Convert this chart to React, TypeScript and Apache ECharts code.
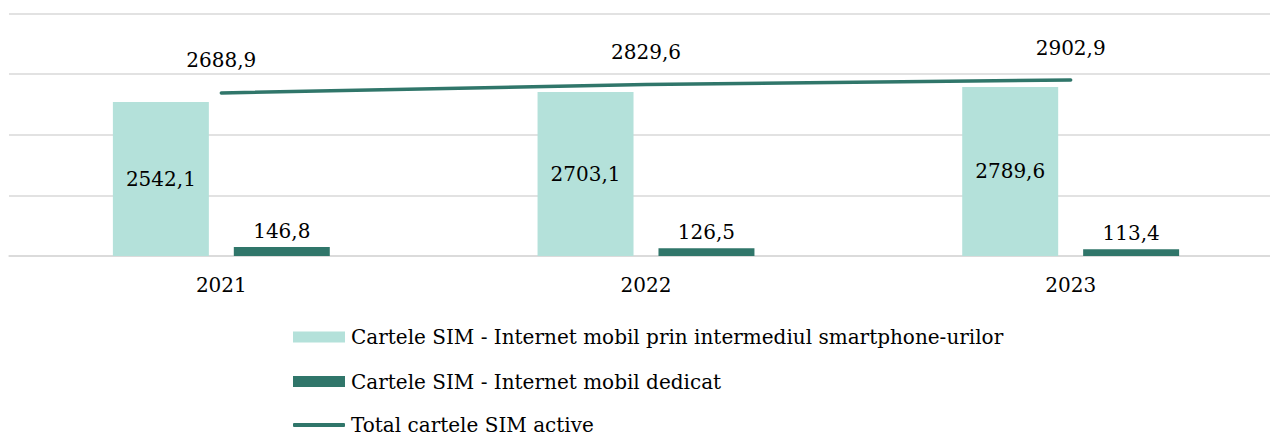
import React, { useEffect, useRef } from "react";
import * as echarts from "echarts";

const categories = ["2021", "2022", "2023"];
const smartphoneSim = [2542.1, 2703.1, 2789.6];
const dedicatedSim = [146.8, 126.5, 113.4];
const totalSim = [2688.9, 2829.6, 2902.9];
const seriesNames = [
  "Cartele SIM - Internet mobil prin intermediul smartphone-urilor",
  "Cartele SIM - Internet mobil dedicat",
  "Total cartele SIM active",
];

const FONT = "DejaVu Serif";
const LIGHT = "#b4e1da";
const DARK = "#30766a";
const fmt = (v: number) => v.toFixed(1).replace(".", ",");

const legendBase = {
  orient: "horizontal",
  left: 293,
  padding: 0,
  itemWidth: 52,
  itemGap: 0,
  textStyle: { fontFamily: FONT, fontSize: 20, color: "#000", padding: [0, 0, 0, 1] },
};

export default function App() {
  const ref = useRef<HTMLDivElement>(null);
  useEffect(() => {
    if (!ref.current) return;
    const chart = echarts.init(ref.current, null, { renderer: "svg" });
    chart.setOption({
      animation: false,
      textStyle: { fontFamily: FONT, color: "#000" },
      grid: { left: 9, right: 7, top: 13.5, bottom: 180, containLabel: false },
      legend: [
        { ...legendBase, top: 327, itemHeight: 11, icon: "rect", data: [seriesNames[0]] },
        { ...legendBase, top: 371.5, itemHeight: 11, icon: "rect", data: [seriesNames[1]] },
        { ...legendBase, top: 415, itemHeight: 4, icon: "roundRect", data: [seriesNames[2]] },
      ],
      xAxis: {
        type: "category",
        data: categories,
        axisLine: { lineStyle: { color: "#d9d9d9", width: 1.5 } },
        axisTick: { show: false },
        axisLabel: { fontFamily: FONT, fontSize: 20, color: "#000", margin: 19 },
      },
      yAxis: {
        type: "value",
        min: 0,
        max: 4000,
        interval: 1000,
        axisLabel: { show: false },
        axisLine: { show: false },
        axisTick: { show: false },
        splitLine: { lineStyle: { color: "#d9d9d9", width: 1.5 } },
      },
      series: [
        {
          name: seriesNames[0],
          type: "bar",
          data: smartphoneSim,
          barWidth: "22.6%",
          barGap: "26%",
          itemStyle: { color: LIGHT },
          label: {
            show: true,
            position: "inside",
            fontFamily: FONT,
            fontSize: 20,
            color: "#000",
            formatter: (p: any) => fmt(p.value),
          },
        },
        {
          name: seriesNames[1],
          type: "bar",
          data: dedicatedSim,
          barWidth: "22.6%",
          itemStyle: { color: DARK },
          label: {
            show: true,
            position: "top",
            distance: 6,
            fontFamily: FONT,
            fontSize: 20,
            color: "#000",
            formatter: (p: any) => fmt(p.value),
          },
        },
        {
          name: seriesNames[2],
          type: "line",
          data: totalSim,
          symbol: "circle",
          symbolSize: 1,
          showSymbol: true,
          lineStyle: { color: DARK, width: 3.5, cap: "round" },
          itemStyle: { color: DARK },
          label: {
            show: true,
            position: "top",
            distance: 22,
            fontFamily: FONT,
            fontSize: 20,
            color: "#000",
            formatter: (p: any) => fmt(p.value),
          },
        },
      ],
    });
    return () => chart.dispose();
  }, []);
  return (
    <div
      style={{
        position: "absolute",
        left: 0,
        top: 0,
        width: 1270,
        height: 436,
        overflow: "hidden",
      }}
    >
      <div ref={ref} style={{ width: 1290, height: 436 }} />
    </div>
  );
}
